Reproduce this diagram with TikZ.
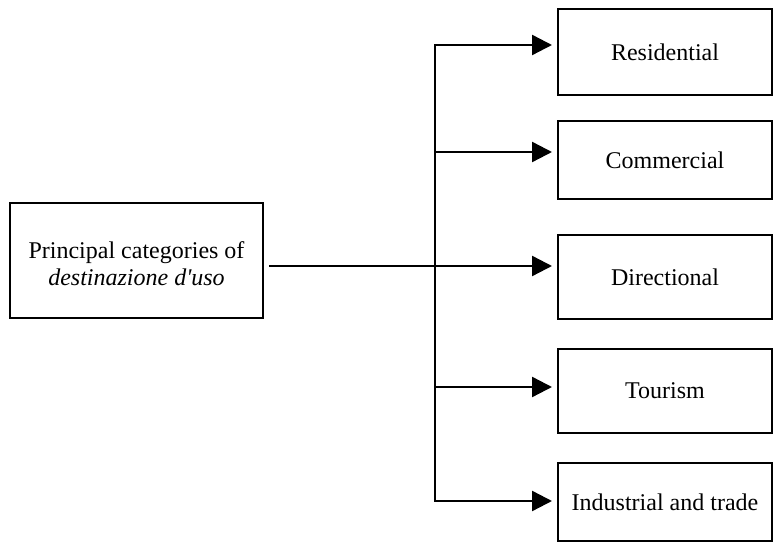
\documentclass[tikz,border=0pt]{standalone}
\usepackage{fontspec}
\setmainfont{Liberation Serif}
\newfontfamily\rawserif{Liberation Serif}
\usetikzlibrary{arrows.meta}
\begin{document}
\begin{tikzpicture}[x=0.5pt,y=-0.5pt,
  box/.style={draw=black,line width=1pt,minimum width=107pt,inner sep=0pt,font=\rawserif\fontsize{12}{14}\selectfont},
  conn/.style={line width=1.2pt,black},
  arr/.style={conn,-{Triangle[length=10pt,width=10pt]},shorten >=2.5pt}]
\clip (0,0) rectangle (773,545);
\useasboundingbox (0,0) rectangle (773,545);
\node[box,minimum width=126.5pt,minimum height=57.5pt,align=center] (main) at (136.5,260.5)
  {\raisebox{-3pt}[\height][\depth]{\begin{tabular}{@{}c@{}}Principal categories of\\[-0.5pt] \textit{destinazione d'uso}\end{tabular}}};
\node[box,minimum height=43pt] (res) at (665,52) {Residential};
\node[box,minimum height=39pt] (com) at (665,160) {Commercial};
\node[box,minimum height=42pt] (dir) at (665,277) {Directional};
\node[box,minimum height=42pt] (tou) at (665,391) {Tourism};
\node[box,minimum height=39pt] (ind) at (665,502.5) {Industrial and trade};
\coordinate (t1) at (435,45);
\coordinate (t2) at (435,152);
\coordinate (t3) at (435,266);
\coordinate (t4) at (435,387);
\coordinate (t5) at (435,501);
\draw[conn,line cap=rect] (t1) -- (t5);
\draw[arr,shorten <=2.5pt] (main.east |- t3) -- (dir.west |- t3);
\draw[arr] (t1) -- (res.west |- t1);
\draw[arr] (t2) -- (com.west |- t2);
\draw[arr] (t4) -- (tou.west |- t4);
\draw[arr] (t5) -- (ind.west |- t5);
\end{tikzpicture}
\end{document}
